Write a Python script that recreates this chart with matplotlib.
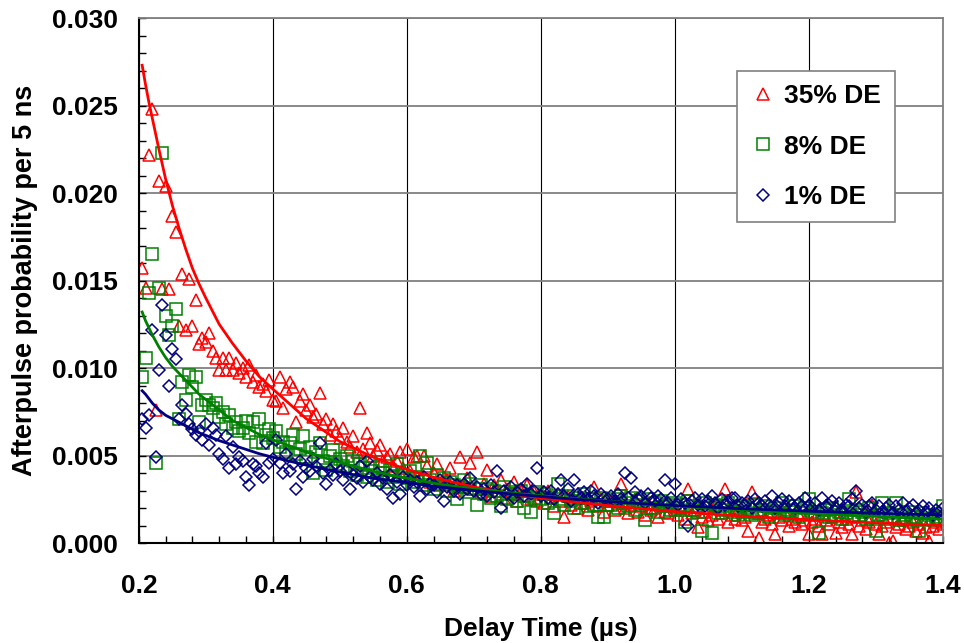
import numpy as np
import matplotlib
matplotlib.use("Agg")
import matplotlib.pyplot as plt
from matplotlib.ticker import MultipleLocator, FormatStrFormatter

plt.rcParams['font.family'] = ['Liberation Sans', 'DejaVu Sans']
plt.rcParams['font.weight'] = 'bold'

# delay bins, 5 ns apart (µs)
delay = np.round(0.2 + 0.005 * np.arange(1, 241), 3)

# afterpulse probability per 5 ns, in units of 1e-4
de35 = [157, 146, 222, 248, 76, 207, 145, 204, 145, 187, 178, 124, 154, 122, 151, 124, 139, 114, 117, 115,
        120, 110, 106, 99, 106, 99, 106, 99, 103, 97, 100, 95, 102, 92, 96, 89, 91, 87, 93, 82,
        81, 95, 77, 88, 92, 89, 69, 81, 85, 76, 79, 72, 74, 86, 68, 71, 62, 68, 64, 60,
        66, 58, 55, 61, 52, 77, 54, 63, 57, 50, 53, 56, 47, 49, 51, 44, 47, 52, 43, 54,
        41, 49, 50, 37, 50, 44, 35, 40, 45, 33, 38, 36, 43, 30, 34, 49, 32, 37, 46, 31,
        52, 29, 34, 42, 27, 33, 30, 36, 26, 31, 28, 35, 24, 30, 27, 33, 25, 29, 24, 28,
        23, 30, 26, 21, 28, 24, 15, 27, 22, 25, 20, 26, 23, 19, 24, 32, 21, 25, 18, 22,
        24, 19, 23, 34, 20, 17, 22, 25, 18, 21, 16, 23, 19, 20, 15, 22, 18, 17, 21, 19,
        16, 20, 14, 31, 17, 19, 9, 15, 18, 13, 16, 21, 14, 17, 31, 12, 16, 14, 19, 13,
        15, 7, 29, 17, 3, 12, 14, 16, 11, 5, 15, 13, 18, 10, 14, 12, 16, 11, 13, 5,
        12, 14, 10, 5, 13, 11, 15, 6, 12, 9, 14, 11, 5, 29, 10, 13, 8, 12, 22, 11,
        5, 10, 12, 0, 1, 9, 11, 13, 8, 10, 12, 7, 11, 6, 9, 1, 10, 12, 8, 11]

de8 = [95, 106, 143, 165, 46, 146, 223, 130, 119, 124, 134, 71, 92, 82, 96, 89, 95, 69, 79, 82,
       79, 77, 80, 72, 75, 68, 73, 66, 69, 64, 66, 70, 63, 69, 58, 71, 57, 62, 65, 60,
       64, 55, 58, 52, 57, 62, 51, 54, 61, 49, 55, 40, 52, 57, 47, 42, 50, 53, 45, 48,
       44, 50, 41, 47, 39, 45, 43, 38, 46, 41, 36, 44, 40, 35, 42, 38, 45, 34, 39, 37,
       41, 35, 38, 50, 33, 46, 36, 31, 39, 34, 37, 30, 35, 33, 25, 32, 36, 29, 34, 31,
       22, 33, 28, 31, 26, 30, 27, 21, 32, 25, 29, 28, 24, 30, 20, 27, 18, 26, 29, 25,
       28, 23, 26, 17, 34, 25, 22, 27, 24, 20, 26, 23, 28, 21, 25, 22, 15, 26, 15, 24,
       22, 25, 20, 27, 23, 21, 26, 19, 24, 22, 13, 25, 20, 23, 18, 24, 21, 22, 19, 23,
       20, 22, 12, 24, 19, 21, 18, 7, 23, 20, 6, 22, 17, 21, 19, 23, 18, 20, 16, 21,
       18, 20, 16, 22, 17, 19, 21, 15, 18, 20, 17, 23, 16, 19, 18, 21, 15, 17, 20, 25,
       16, 18, 6, 17, 19, 15, 20, 16, 18, 14, 17, 25, 15, 19, 16, 18, 14, 20, 15, 7,
       16, 23, 14, 17, 15, 23, 13, 16, 14, 18, 15, 13, 7, 17, 14, 16, 13, 15, 14, 21]

de1 = [71, 66, 73, 122, 49, 99, 136, 119, 90, 111, 105, 71, 79, 74, 68, 65, 62, 64, 59, 68,
       56, 66, 62, 51, 48, 61, 43, 55, 45, 49, 47, 38, 33, 45, 44, 40, 38, 57, 46, 48,
       59, 46, 40, 51, 41, 45, 31, 47, 38, 43, 41, 48, 44, 57, 40, 34, 42, 39, 45, 41,
       36, 42, 31, 39, 37, 44, 35, 47, 38, 36, 40, 34, 37, 31, 39, 26, 35, 28, 38, 33,
       36, 32, 35, 27, 38, 31, 34, 33, 29, 36, 24, 32, 35, 30, 33, 28, 34, 31, 37, 30,
       32, 28, 31, 27, 33, 29, 41, 20, 30, 28, 32, 26, 29, 31, 27, 34, 28, 30, 43, 27,
       29, 26, 30, 25, 28, 36, 27, 31, 24, 36, 28, 26, 29, 25, 30, 27, 23, 28, 26, 25,
       27, 24, 28, 25, 40, 26, 37, 29, 25, 27, 23, 28, 26, 24, 27, 25, 36, 23, 26, 34,
       22, 25, 23, 10, 24, 26, 22, 25, 21, 24, 27, 23, 20, 25, 22, 24, 26, 26, 21, 23,
       22, 24, 20, 25, 23, 21, 24, 22, 27, 20, 23, 25, 21, 24, 22, 20, 23, 21, 26, 22,
       20, 23, 19, 26, 21, 22, 24, 20, 23, 19, 22, 21, 25, 30, 20, 22, 18, 21, 23, 19,
       21, 18, 20, 22, 17, 21, 19, 23, 18, 20, 22, 17, 19, 21, 18, 20, 16, 19, 18, 20]

# fitted curves (µs, 1e-4)
fit_x = [0.205, 0.21, 0.215, 0.22, 0.23, 0.24, 0.25, 0.26, 0.27, 0.28, 0.29, 0.30, 0.32, 0.34,
         0.36, 0.38, 0.40, 0.45, 0.50, 0.55, 0.60, 0.65, 0.70, 0.75, 0.80, 0.85, 0.90, 0.95,
         1.00, 1.10, 1.20, 1.30, 1.40]
fit35 = [273, 262, 252, 243, 225, 208, 193, 180, 168, 157, 148, 140, 125, 114,
         104, 95, 88, 71, 58, 49, 42, 36.5, 32, 28.5, 25.7, 23.4, 21.4, 19.6,
         18.0, 15.4, 13.3, 11.5, 10.0]
fit8 = [132, 127, 123, 119, 112, 106, 101, 97, 93, 89, 85, 82, 76, 70,
        66, 62, 59, 52, 46, 41, 37, 33.5, 31, 28.8, 27, 25.3, 23.8, 22.4,
        21.2, 19.0, 17.0, 15.2, 13.6]
fit1 = [87, 85, 82.5, 80, 76, 73, 71, 69, 67, 65, 63, 61.5, 58.5, 56,
        53.5, 51, 49, 44.5, 40.5, 37, 34.5, 32, 30, 28.2, 26.6, 25, 23.7, 22.5,
        21.4, 19.6, 18.2, 17.0, 16.0]

scale = 1e-4
red, green, blue = '#FF0000', '#008000', '#000080'
fs = 19

fig = plt.figure(figsize=(9.64, 6.43), dpi=100)
ax = fig.add_axes([0.144, 0.1555, 0.834, 0.8165])

ax.plot(delay, np.array(de35) * scale, ls='none', marker='^', ms=8.5, mfc='none',
        mec=red, mew=1.1, label='35% DE')
ax.plot(delay, np.array(de8) * scale, ls='none', marker='s', ms=8, mfc='none',
        mec=green, mew=1.1, label='8% DE')
ax.plot(delay, np.array(de1) * scale, ls='none', marker='D', ms=6.5, mfc='none',
        mec=blue, mew=1.1, label='1% DE')

ax.plot(fit_x, np.array(fit35) * scale, color=red, lw=2)
ax.plot(fit_x, np.array(fit8) * scale, color=green, lw=2)
ax.plot(fit_x, np.array(fit1) * scale, color=blue, lw=2)

ax.set_xlim(0.2, 1.4)
ax.set_ylim(0, 0.030)
ax.xaxis.set_major_locator(MultipleLocator(0.2))
ax.xaxis.set_minor_locator(MultipleLocator(0.04))
ax.yaxis.set_major_locator(MultipleLocator(0.005))
ax.yaxis.set_minor_locator(MultipleLocator(0.001))
ax.xaxis.set_major_formatter(FormatStrFormatter('%.1f'))
ax.yaxis.set_major_formatter(FormatStrFormatter('%.3f'))

ax.grid(axis='x', which='major', color='black', lw=0.8)
ax.grid(axis='y', which='major', color='#808080', lw=1.3)
ax.set_axisbelow(True)

ax.tick_params(which='both', direction='in', length=5, width=1, color='black')
ax.tick_params(axis='x', which='major', pad=22, labelsize=fs)
ax.tick_params(axis='y', which='major', pad=15, labelsize=fs)
for s in ['left', 'bottom']:
    ax.spines[s].set_color('black')
    ax.spines[s].set_linewidth(1.5)
for s in ['top', 'right']:
    ax.spines[s].set_color('#808080')
    ax.spines[s].set_linewidth(1.3)

ax.set_xlabel('Delay Time (µs)', fontsize=fs, fontweight='bold')
ax.set_ylabel('Afterpulse probability per 5 ns', fontsize=19.5, fontweight='bold')
ax.xaxis.set_label_coords(0.5, -0.14)
ax.yaxis.set_label_coords(-0.125, 0.5)

leg = ax.legend(loc='upper left', bbox_to_anchor=(0.744, 0.899), borderaxespad=0,
                fontsize=fs, frameon=True, fancybox=False, edgecolor='#808080',
                framealpha=1, labelspacing=1.0, handletextpad=0.3, borderpad=0.5,
                handlelength=1.0, markerscale=1.0)
leg.get_frame().set_linewidth(1.2)
for t in leg.get_texts():
    t.set_fontweight('bold')

fig.savefig('out.png', dpi=100)
